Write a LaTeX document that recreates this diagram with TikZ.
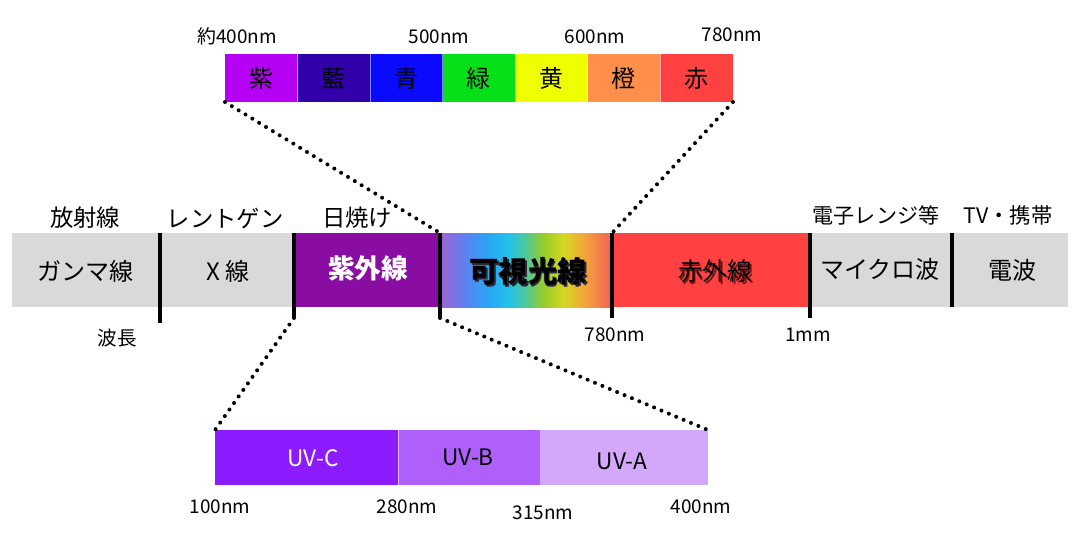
\documentclass[tikz,border=0pt]{standalone}
\usepackage{fontspec}
\setmainfont{Noto Sans CJK JP}
\definecolor{cviolet}{RGB}{181,0,245}
\definecolor{cindigo}{RGB}{50,0,170}
\definecolor{cblue}{RGB}{10,10,255}
\definecolor{cgreen}{RGB}{5,225,25}
\definecolor{cyellow}{RGB}{240,255,0}
\definecolor{corange}{RGB}{255,143,75}
\definecolor{cred}{RGB}{255,65,65}
\definecolor{cgray}{RGB}{217,217,217}
\definecolor{cuv}{RGB}{137,12,163}
\definecolor{cir}{RGB}{255,65,65}
\definecolor{uvc}{RGB}{141,27,255}
\definecolor{uvb}{RGB}{175,95,250}
\definecolor{uva}{RGB}{211,167,250}
\definecolor{g0}{RGB}{160,100,210}
\definecolor{g1}{RGB}{90,130,240}
\definecolor{g2}{RGB}{40,165,245}
\definecolor{g3}{RGB}{35,195,235}
\definecolor{g4}{RGB}{80,200,150}
\definecolor{g5}{RGB}{150,205,40}
\definecolor{g6}{RGB}{215,215,35}
\definecolor{g7}{RGB}{245,160,60}
\definecolor{g8}{RGB}{240,95,85}
\definecolor{shadowvis}{RGB}{40,40,60}
\definecolor{shadowir}{RGB}{110,20,20}
\pgfdeclarehorizontalshading{visiblespec}{100bp}{color(0bp)=(g0); color(25bp)=(g0); color(32.5bp)=(g1); color(39bp)=(g2); color(45bp)=(g3); color(50bp)=(g4); color(55bp)=(g5); color(61bp)=(g6); color(67.5bp)=(g7); color(75bp)=(g8); color(100bp)=(g8)}
\newcommand{\shadowtext}[3]{\makebox[0pt][l]{\hspace{#2}\raisebox{-#2}{\color{#3}#1}}#1}
\tikzset{
  lbl/.style={inner sep=0pt, font=\fontsize{14.2}{16}\selectfont},
  toplbl/.style={inner sep=0pt, font=\fontsize{17.5}{19}\selectfont},
  inlbl/.style={inner sep=0pt, font=\fontsize{18}{20}\selectfont},
  colchar/.style={inner sep=0pt, font=\fontsize{18}{20}\selectfont},
  uvlbl/.style={inner sep=0pt, font=\fontsize{17}{19}\selectfont},
  divider/.style={line width=2.6pt, black},
  zoomline/.style={line width=3pt, dash pattern=on 0pt off 6pt, line cap=round},
  sep/.style={draw=white, line width=0.5pt}
}
\begin{document}
\begin{tikzpicture}[x=0.75pt,y=-0.75pt]
\useasboundingbox (0,0) rectangle (1080,540);
\fill[white] (0,0) rectangle (1080,540);
% ---- top visible spectrum bar
\fill[cviolet] (225,54) rectangle (297.5,102);
\fill[cindigo] (297.5,54) rectangle (370,102);
\fill[cblue] (370,54) rectangle (442.5,102);
\fill[cgreen] (442.5,54) rectangle (515,102);
\fill[cyellow] (515,54) rectangle (587.5,102);
\fill[corange] (587.5,54) rectangle (660,102);
\fill[cred] (660,54) rectangle (733,102);
\foreach \xx in {297.5,370,442.5,515,587.5,660} \draw[sep, draw opacity=0.5] (\xx,54) -- (\xx,102);
\node[colchar] (c1) at (261,78) {紫};
\node[colchar] (c2) at (333.5,78) {藍};
\node[colchar] (c3) at (406,78) {青};
\node[colchar] (c4) at (478.5,78) {緑};
\node[colchar] (c5) at (551,78) {黄};
\node[colchar] (c6) at (623.5,78) {橙};
\node[colchar] (c7) at (696,78) {赤};
\node[lbl] (t1) at (237,36) {約400nm};
\node[lbl] (t2) at (439,37) {500nm};
\node[lbl] (t3) at (595,37) {600nm};
\node[lbl] (t4) at (732,35) {780nm};
\coordinate (topL) at (225,102);
\coordinate (topR) at (733,102);
% ---- main bar
\fill[cgray] (12,233) rectangle (1068,307);
\fill[cuv] (294,233) rectangle (440,307);
\shade[shading=visiblespec] (440,233) rectangle (612,307);
\fill[cir] (612,233) rectangle (810,307);
\coordinate (d1t) at (160,233); \coordinate (d1b) at (160,323);
\coordinate (d2t) at (294,233); \coordinate (d2b) at (294,318);
\coordinate (d3t) at (440,233); \coordinate (d3b) at (440,318);
\coordinate (d4t) at (612,233); \coordinate (d4b) at (612,318);
\coordinate (d5t) at (810,233); \coordinate (d5b) at (810,318);
\coordinate (d6t) at (952,233); \coordinate (d6b) at (952,307);
\foreach \i in {1,...,6} \draw[divider] (d\i t) -- (d\i b);
% labels above
\node[toplbl] (a1) at (85,218) {放射線};
\node[toplbl] (a2) at (225,218) {レントゲン};
\node[toplbl] (a3) at (357,218) {日焼け};
\node[inner sep=0pt, font=\fontsize{15.8}{17}\selectfont] (a4) at (876,215) {電子レンジ等};
\node[inner sep=0pt, font=\fontsize{16}{18}\selectfont] (a5) at (1008,215) {TV・携帯};
% labels inside
\node[inlbl] (b1) at (85,271) {ガンマ線};
\node[inlbl] (b2) at (228,271) {X 線};
\node[inner sep=0pt, font=\fontsize{20}{22}\selectfont\bfseries, text=white] (b3) at (368,268) {紫外線};
\node[inner sep=0pt, font=\fontsize{22}{24}\selectfont\bfseries] (b4) at (528,272) {\shadowtext{可視光線}{1.4pt}{shadowvis}};
\node[inner sep=0pt, font=\fontsize{18.5}{20}\selectfont] (b5) at (715,272) {\shadowtext{赤外線}{1.4pt}{shadowir}};
\node[inlbl] (b6) at (880,269) {マイクロ波};
\node[inlbl] (b7) at (1012,270) {電波};
% labels below
\node[inner sep=0pt, font=\fontsize{14.7}{16}\selectfont] (w) at (117,338) {波長};
\node[lbl] (n1) at (615,335) {780nm};
\node[lbl] (n2) at (808,335) {1mm};
% ---- UV bar
\fill[uvc] (215,430) rectangle (398,485);
\fill[uvb] (398,430) rectangle (540,485);
\fill[uva] (540,430) rectangle (708,485);
\draw[sep, draw opacity=0.6] (398,430) -- (398,485);
\node[uvlbl, text=white] (u1) at (313,458) {UV-C};
\node[uvlbl] (u2) at (468,457) {UV-B};
\node[uvlbl] (u3) at (622,461) {UV-A};
\coordinate (uvL) at (215,430);
\coordinate (uvR) at (708,430);
\node[lbl] (m1) at (220,507) {100nm};
\node[lbl] (m2) at (407,507) {280nm};
\node[lbl] (m3) at (543,513) {315nm};
\node[lbl] (m4) at (701,507) {400nm};
% ---- zoom dotted lines
\draw[zoomline] (topL) -- (d3t);
\draw[zoomline] (topR) -- (d4t);
\draw[zoomline] (d2b) -- (uvL);
\draw[zoomline] (d3b) -- (uvR);
\end{tikzpicture}
\end{document}
